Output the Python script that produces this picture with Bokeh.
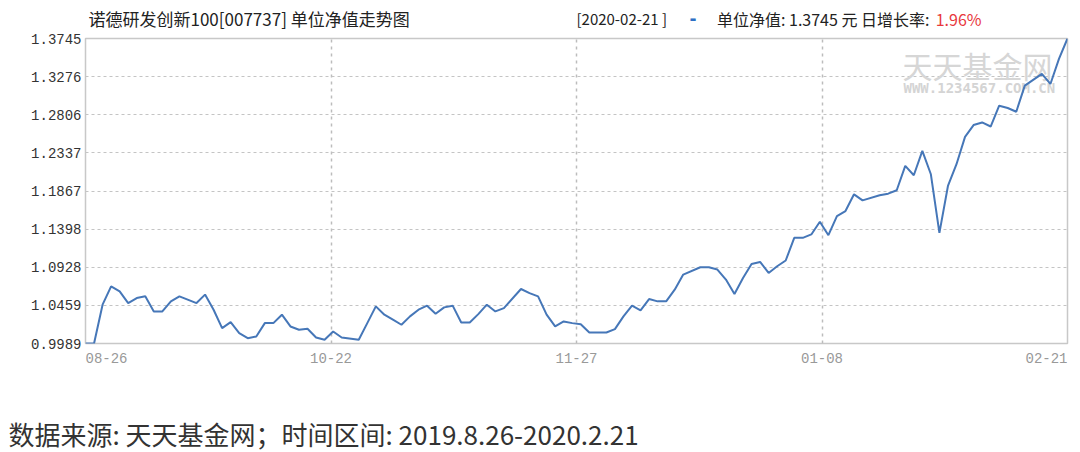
from bokeh.plotting import figure
from bokeh.models import Range1d, FixedTicker, NumeralTickFormatter, Label
from bokeh.layouts import column
from bokeh.embed import file_html
from bokeh.resources import INLINE

# ---- data ----
day_index = [0, 1, 2, 3, 4, 5, 6, 7, 8, 9,
             10, 11, 13, 14, 15, 16, 17, 18, 19, 20,
             21, 22, 23, 24, 25, 26, 27, 28, 29, 30,
             32, 33, 34, 35, 36, 37, 38, 39, 40, 41,
             42, 43, 44, 45, 46, 47, 48, 49, 51, 52,
             53, 54, 55, 56, 57, 58, 59, 60, 61, 62,
             63, 64, 65, 66, 67, 68, 69, 70, 72, 73,
             74, 75, 76, 77, 78, 79, 80, 81, 82, 83,
             84, 85, 86, 87, 88, 89, 90, 91, 93, 94,
             95, 96, 97, 98, 99, 100, 101, 102, 103, 104,
             105, 106, 107, 108, 109, 110, 112, 113, 114, 115]
nav = [0.9989, 0.9989, 1.0467, 1.0693, 1.0631, 1.0487, 1.0549, 1.0570, 1.0384, 1.0384,
       1.0508, 1.0570, 1.0487, 1.0591, 1.0405, 1.0178, 1.0252, 1.0116, 1.0054, 1.0075,
       1.0240, 1.0240, 1.0344, 1.0199, 1.0158, 1.0171, 1.0063, 1.0035, 1.0137, 1.0063,
       1.0035, 1.0240, 1.0446, 1.0344, 1.0282, 1.0220, 1.0323, 1.0405, 1.0455, 1.0356,
       1.0434, 1.0455, 1.0248, 1.0248, 1.0351, 1.0467, 1.0384, 1.0425, 1.0660, 1.0610,
       1.0570, 1.0344, 1.0199, 1.0261, 1.0240, 1.0227, 1.0125, 1.0125, 1.0125, 1.0166,
       1.0323, 1.0455, 1.0397, 1.0536, 1.0508, 1.0508, 1.0652, 1.0838, 1.0928, 1.0928,
       1.0900, 1.0776, 1.0598, 1.0796, 1.0969, 1.0993, 1.0858, 1.0940, 1.1011, 1.1290,
       1.1290, 1.1332, 1.1488, 1.1323, 1.1558, 1.1620, 1.1826, 1.1752, 1.1814, 1.1834,
       1.1876, 1.2176, 1.2061, 1.2361, 1.2073, 1.1352, 1.1929, 1.2197, 1.2534, 1.2679,
       1.2711, 1.2661, 1.2917, 1.2889, 1.2843, 1.3164, 1.3309, 1.3185, 1.3494, 1.3745]
y_ticks = [0.9989, 1.0459, 1.0928, 1.1398, 1.1867, 1.2337, 1.2806, 1.3276, 1.3745]
x_tick_labels = ["08-26", "10-22", "11-27", "01-08", "02-21"]
x_tick_align = ["left", "center", "center", "center", "right"]

title_text = "诺德研发创新100[007737] 单位净值走势图"
date_text = "[2020-02-21 ]"
nav_text = "单位净值: 1.3745 元 日增长率:"
growth_text = "1.96%"
watermark_cn = "天天基金网"
watermark_en = "WWW.1234567.COM.CN"
footer_text = "数据来源: 天天基金网；时间区间: 2019.8.26-2020.2.21"

x0, x1 = day_index[0], day_index[-1]
n_lab = len(x_tick_labels)
x_tick_pos = [x0 + (x1 - x0) * i / (n_lab - 1) for i in range(n_lab)]

W = 1072
LEFT, RIGHT = 85, 5
CJK = "Noto Sans CJK SC"


def blank_fig(h, x_range=None, left=0, right=0, free=False):
    f = figure(width=W, height=h, output_backend="svg", toolbar_location=None,
               x_axis_type=None, y_axis_type=None,
               x_range=x_range if x_range is not None else Range1d(0, 1),
               y_range=Range1d(0, 1),
               min_border_left=left, min_border_right=right,
               min_border_top=0, min_border_bottom=0)
    f.outline_line_color = None
    f.background_fill_color = "white"
    f.border_fill_color = "white"
    if free and "frame_align" in f.properties():
        f.frame_align = False
    return f


# ---------- header ----------
HH = 31
HY = 13
head = blank_fig(HH, free=True)
head.add_layout(Label(x=88, y=HY, x_units="screen", y_units="screen", text=title_text,
                      text_align="left", text_baseline="middle", text_font=CJK,
                      text_font_size="17px", text_color="#222222"))
head.add_layout(Label(x=576, y=HY, x_units="screen", y_units="screen", text=date_text,
                      text_align="left", text_baseline="middle", text_font=CJK,
                      text_font_size="15px", text_color="#222222"))
head.add_layout(Label(x=689, y=HY, x_units="screen", y_units="screen", text="-",
                      text_align="left", text_baseline="middle", text_font="DejaVu Sans",
                      text_font_size="17px", text_font_style="bold", text_color="#2d6fc4"))
head.add_layout(Label(x=929, y=HY, x_units="screen", y_units="screen", text=nav_text,
                      text_align="right", text_baseline="middle", text_font=CJK,
                      text_font_size="16px", text_color="#222222"))
head.add_layout(Label(x=981, y=HY, x_units="screen", y_units="screen", text=growth_text,
                      text_align="right", text_baseline="middle", text_font=CJK,
                      text_font_size="16px", text_color="#e8383d"))

# ---------- main chart ----------
p = figure(width=W, height=321, output_backend="svg", toolbar_location=None,
           x_range=Range1d(x0, x1), y_range=Range1d(y_ticks[0], y_ticks[-1]),
           min_border_left=LEFT, min_border_right=RIGHT, min_border_top=7, min_border_bottom=9)
p.background_fill_color = "white"
p.border_fill_color = "white"
p.outline_line_color = "#c8c8c8"
p.outline_line_width = 1.5

p.yaxis.ticker = FixedTicker(ticks=y_ticks)
p.yaxis.formatter = NumeralTickFormatter(format="0.0000")
p.yaxis.axis_line_color = None
p.yaxis.major_tick_line_color = None
p.yaxis.minor_tick_line_color = None
p.yaxis.major_tick_out = 0
p.yaxis.major_tick_in = 0
p.yaxis.major_label_standoff = 4
p.yaxis.major_label_text_font = "Liberation Mono"
p.yaxis.major_label_text_font_size = "14px"
p.yaxis.major_label_text_color = "#333333"

p.xaxis.ticker = FixedTicker(ticks=x_tick_pos)
p.xaxis.visible = False

p.ygrid.grid_line_color = "#c4c4c4"
p.ygrid.grid_line_dash = "3 3"
p.ygrid.grid_line_width = 1
p.xgrid.grid_line_color = "#bcbcbc"
p.xgrid.grid_line_dash = "3 4"
p.xgrid.grid_line_width = 1.5

p.add_layout(Label(x=817, y=279, x_units="screen", y_units="screen", text=watermark_cn,
                   text_align="left", text_baseline="middle", text_font=CJK,
                   text_font_size="30px", text_color="#d6d6d6", level="underlay"))
p.add_layout(Label(x=818, y=256, x_units="screen", y_units="screen", text=watermark_en,
                   text_align="left", text_baseline="middle", text_font="DejaVu Sans Mono",
                   text_font_size="14px", text_font_style="bold", text_color="#d4d4d4",
                   level="underlay"))

p.line(day_index, nav, line_color="#4677b8", line_width=2)

# ---------- x tick labels (share x range with chart) ----------
XH = 22
xlab = blank_fig(XH, x_range=p.x_range, left=LEFT, right=RIGHT)
for pos, lab, al in zip(x_tick_pos, x_tick_labels, x_tick_align):
    xlab.add_layout(Label(x=pos, y=XH, x_units="data", y_units="screen", text=lab,
                          text_align=al, text_baseline="top", text_font="Liberation Mono",
                          text_font_size="14px", text_color="#999999"))

# ---------- footer ----------
FH = 78
foot = blank_fig(FH, free=True)
foot.add_layout(Label(x=8, y=FH - 59, x_units="screen", y_units="screen", text=footer_text,
                      text_align="left", text_baseline="middle", text_font=CJK,
                      text_font_size="26px", text_color="#333333"))

layout = column(head, p, xlab, foot, spacing=0)
open("out.html", "w").write(file_html(layout, INLINE))
